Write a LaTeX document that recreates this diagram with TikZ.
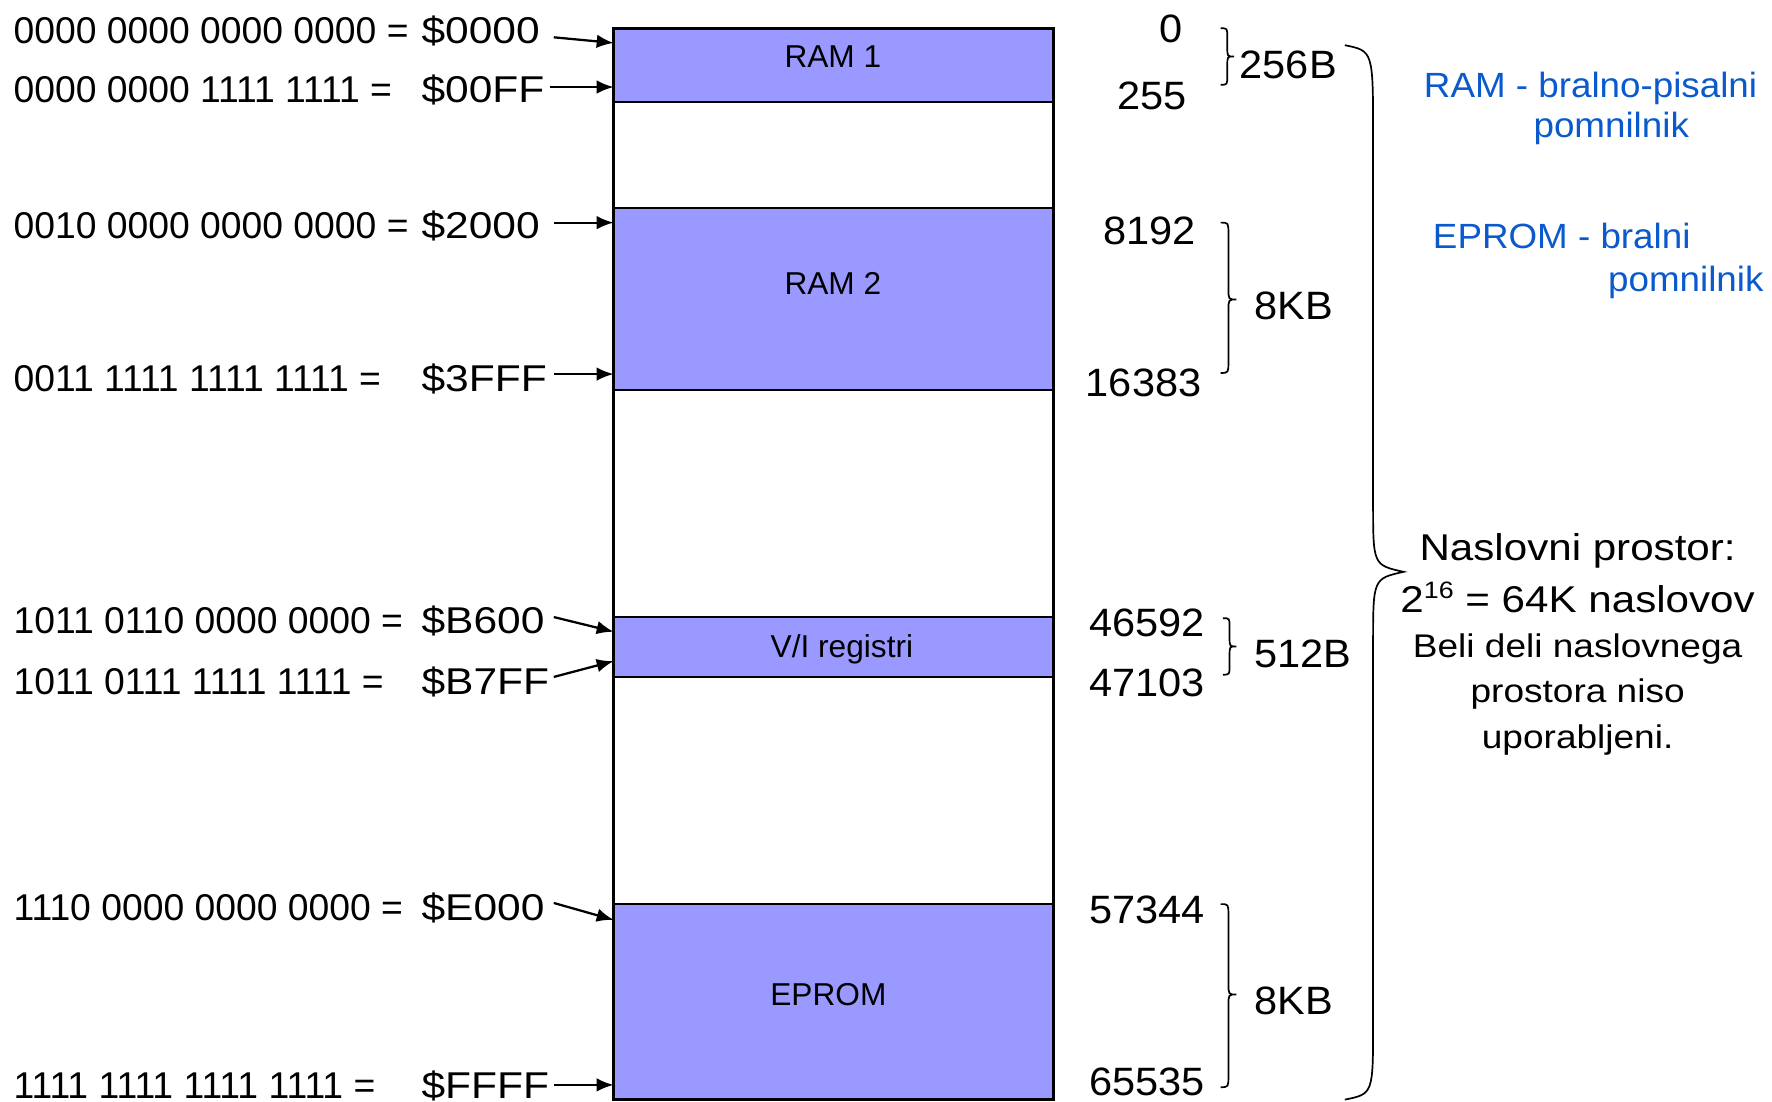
\documentclass[tikz,border=0pt]{standalone}
\usepackage{fontspec}
\setmainfont{Liberation Sans}
\newfontfamily\fhex[FakeStretch=1.14]{Liberation Sans}
\newfontfamily\fnum[FakeStretch=1.05]{Liberation Sans}
\newfontfamily\fwide[FakeStretch=1.13]{Liberation Sans}
\usetikzlibrary{arrows.meta}
\definecolor{memfill}{RGB}{153,153,255}
\definecolor{noteblue}{RGB}{10,90,205}
\newcommand\mybrace[6]{%
  \draw[brace] (#1,#3) .. controls ({#1+#2/2},#3) .. ({#1+#2/2},{#3+#6})
    -- ({#1+#2/2},{#4-#6}) .. controls ({#1+#2/2},#4) .. ({#1+#2},#4)
    .. controls ({#1+#2/2},#4) .. ({#1+#2/2},{#4+#6})
    -- ({#1+#2/2},{#5-#6}) .. controls ({#1+#2/2},#5) .. (#1,#5);}
\begin{document}
\begin{tikzpicture}[x=1pt,y=-1pt,
  txt/.style={inner sep=0pt,outer sep=0pt},
  bin/.style={txt,anchor=base west,font=\fontsize{33}{38}\selectfont},
  hex/.style={txt,anchor=base west,font=\fhex\fontsize{33}{38}\selectfont},
  num/.style={txt,anchor=base east,font=\fnum\fontsize{35}{40}\selectfont},
  sizelbl/.style={txt,anchor=base west,font=\fnum\fontsize{35}{40}\selectfont},
  memlabel/.style={txt,anchor=base,font=\fontsize{28}{32}\selectfont},
  note/.style={txt,anchor=base west,text=noteblue,font=\fnum\fontsize{31}{36}\selectfont},
  info/.style={txt,anchor=base,font=\fwide\fontsize{33}{38}\selectfont},
  infosmall/.style={txt,anchor=base,font=\fwide\fontsize{29}{34}\selectfont},
  arr/.style={line width=2pt,-{Latex[length=15pt,width=12pt]}},
  brace/.style={line width=1.5pt},
  used/.style={fill=memfill},
  divider/.style={line width=1.6pt},
  frame/.style={line width=3pt}
]
\useasboundingbox (0,0) rectangle (1568,975);

% memory regions
\fill[used] (543,25) rectangle (932,90);
\fill[used] (543,184) rectangle (932,345);
\fill[used] (543,546) rectangle (932,599);
\fill[used] (543,800) rectangle (932,973);
\foreach \yy in {90,184,345,546,599,800} \draw[divider] (543,\yy) -- (932,\yy);
\draw[frame] (543,25) rectangle (932,973);

\node[memlabel] (ram1) at (737,60) {RAM 1};
\node[memlabel] (ram2) at (737,261) {RAM 2};
\node[memlabel] (vio) at (745,582) {V/I registri};
\node[memlabel] (eprom) at (733,890) {EPROM};

% left labels
\node[bin] (b1) at (12,38.8) {0000 0000 0000 0000 =};
\node[bin] (b2) at (12,90.8) {0000 0000 1111 1111 =};
\node[bin] (b3) at (12,210.8) {0010 0000 0000 0000 =};
\node[bin] (b4) at (12,346.8) {0011 1111 1111 1111 =};
\node[bin] (b5) at (12,560.8) {1011 0110 0000 0000 =};
\node[bin] (b6) at (12,614.8) {1011 0111 1111 1111 =};
\node[bin] (b7) at (12,814.8) {1110 0000 0000 0000 =};
\node[bin] (b8) at (12,971.8) {1111 1111 1111 1111 =};

\node[hex] (h1) at (373,38.8) {\$0000};
\node[hex] (h2) at (373,90.8) {\$00FF};
\node[hex] (h3) at (373,210.8) {\$2000};
\node[hex] (h4) at (373,346.8) {\$3FFF};
\node[hex] (h5) at (373,560.8) {\$B600};
\node[hex] (h6) at (373,614.8) {\$B7FF};
\node[hex] (h7) at (373,814.8) {\$E000};
\node[hex] (h8) at (373,971.8) {\$FFFF};

% arrows
\coordinate (s1) at (490,33);  \coordinate (e1) at (543,38);
\coordinate (s2) at (487,77);  \coordinate (e2) at (543,77);
\coordinate (s3) at (490,197); \coordinate (e3) at (543,197);
\coordinate (s4) at (490,331); \coordinate (e4) at (543,331);
\coordinate (s5) at (490,546); \coordinate (e5) at (543,559);
\coordinate (s6) at (490,599); \coordinate (e6) at (543,585);
\coordinate (s7) at (490,799); \coordinate (e7) at (543,814);
\coordinate (s8) at (490,960); \coordinate (e8) at (543,960);
\foreach \i in {1,...,8} \draw[arr] (s\i) -- (e\i);

% right numbers
\node[num] (n1) at (1046,37.5) {0};
\node[num] (n2) at (1050,96.5) {255};
\node[num] (n3) at (1058,216.5) {8192};
\node[num] (n4) at (1063,350.5) {16383};
\node[num] (n5) at (1066,563.5) {46592};
\node[num] (n6) at (1066,616.5) {47103};
\node[num] (n7) at (1066,817.5) {57344};
\node[num] (n8) at (1066,969.5) {65535};

% braces
\mybrace{1080}{12}{25}{50}{75}{8}
\mybrace{1080}{14}{197}{265}{330}{10}
\mybrace{1082}{12}{547}{572}{597}{8}
\mybrace{1080}{14}{800}{880}{962}{10}
\draw[brace] (1190,40) .. controls (1215,45) .. (1215,120) -- (1215,445)
  .. controls (1215,500) .. (1242,506) .. controls (1215,512) .. (1215,570)
  -- (1215,905) .. controls (1215,968) .. (1190,973);

\node[sizelbl] (z1) at (1097,69.5) {256B};
\node[sizelbl] (z2) at (1110,282.5) {8KB};
\node[sizelbl] (z3) at (1110,590.5) {512B};
\node[sizelbl] (z4) at (1110,897.5) {8KB};

% notes
\node[note] (r1) at (1260,86) {RAM - bralno-pisalni};
\node[note] (r2) at (1357,122) {pomnilnik};
\node[note] (p1) at (1268,220) {EPROM - bralni};
\node[note] (p2) at (1423,258) {pomnilnik};

\node[info] (i1) at (1396,496) {Naslovni prostor:};
\node[info] (i2) at (1396,542) {2\raisebox{12pt}{\fontsize{21}{21}\selectfont 16} = 64K naslovov};
\node[infosmall] (i3) at (1396,582) {Beli deli naslovnega};
\node[infosmall] (i4) at (1396,622) {prostora niso};
\node[infosmall] (i5) at (1396,662) {uporabljeni.};
\end{tikzpicture}
\end{document}
